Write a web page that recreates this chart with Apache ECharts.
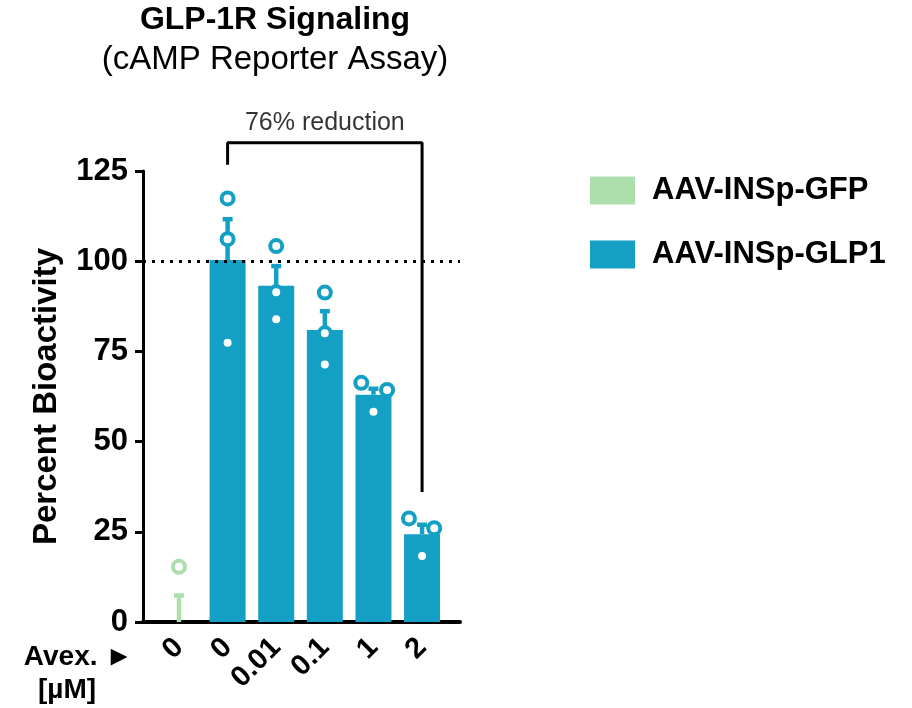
<!DOCTYPE html>
<html>
<head>
<meta charset="utf-8">
<script src="https://cdn.jsdelivr.net/npm/echarts@6/dist/echarts.min.js"></script>
<style>html,body{margin:0;padding:0;background:#fff}#c{width:912px;height:708px}</style>
</head>
<body>
<div id="c"></div>
<script>
// ---- data ----
const doseLabels = ['0', '0', '0.01', '0.1', '1', '2'];
const seriesNames = ['AAV-INSp-GFP', 'AAV-INSp-GLP1'];
const gfpPos = [0];
const gfpMean = [0];
const gfpErrTop = [7.9];
const glpPos = [1, 2, 3, 4, 5];
const glpMean = [100.3, 93.2, 80.9, 63.0, 24.3];
const glpErrTop = [112.2, 99.2, 86.7, 65.2, 27.5];
const pointValues = [[15.3], [117.4, 106.1, 77.4], [104.2, 91.4, 83.9], [91.3, 80.0, 71.4], [66.3, 64.3, 58.3], [28.7, 26.0, 18.3]];
const pointJitter = [[0], [0, 0, 0], [0, 0, 0], [0, 0, 0], [-0.25, 0.28, 0], [-0.27, 0.25, 0]];
const yTicks = [0, 25, 50, 75, 100, 125];
const refLine = 100;
const bracketX = [1, 1, 5, 5];
const bracketY = [126.7, 132.8, 132.8, 36];
const annotText = '76% reduction';

const GREEN = '#ADDFAD';
const TEAL = '#14A0C4';
const FONT = 'Arial, "Liberation Sans", Helvetica, sans-serif';

const chart = echarts.init(document.getElementById('c'), null, {renderer: 'canvas'});

function pts(posList) {
  const out = [];
  posList.forEach(p => {
    pointValues[p].forEach((v, i) => out.push([p + pointJitter[p][i], v]));
  });
  return out;
}

const errData = [];
gfpPos.forEach((p, i) => errData.push([p, gfpMean[i], gfpErrTop[i], 0]));
glpPos.forEach((p, i) => errData.push([p, glpMean[i], glpErrTop[i], 1]));

const option = {
  animation: false,
  backgroundColor: '#fff',
  textStyle: {fontFamily: FONT},
  grid: {left: 143, right: 452, top: 171, bottom: 86, containLabel: false},
  legend: {
    orient: 'vertical', left: 590, top: 175, padding: 0,
    itemWidth: 45, itemHeight: 28, itemGap: 33,
    icon: 'rect',
    data: seriesNames,
    textStyle: {fontSize: 31, fontWeight: 'bold', color: '#000', fontFamily: FONT, padding: [0, 0, 0, 12]}
  },
  xAxis: {
    type: 'value', min: -0.74, max: 5.78,
    splitLine: {show: false},
    axisLine: {show: true, onZero: false, lineStyle: {color: '#000', width: 4}},
    axisTick: {show: false},
    axisLabel: {
      customValues: [0, 1, 2, 3, 4, 5],
      formatter: v => doseLabels[Math.round(v)],
      rotate: 45, margin: 21,
      fontSize: 29, fontWeight: 'bold', color: '#000', fontFamily: FONT
    }
  },
  yAxis: {
    type: 'value', min: 0, max: 125, interval: 25,
    name: 'Percent Bioactivity', nameLocation: 'middle', nameGap: 80,
    nameTextStyle: {fontSize: 33, fontWeight: 'bold', color: '#000', fontFamily: FONT},
    splitLine: {show: false},
    axisLine: {show: true, onZero: false, lineStyle: {color: '#000', width: 3}},
    axisTick: {show: true, length: 8, lineStyle: {color: '#000', width: 3}},
    axisLabel: {fontSize: 31, fontWeight: 'bold', color: '#000', margin: 15, fontFamily: FONT}
  },
  graphic: [
    {type: 'text', x: 275, y: 20, style: {text: 'GLP-1R Signaling', font: 'bold 32px ' + FONT, fill: '#000', textAlign: 'center', textVerticalAlign: 'middle'}},
    {type: 'text', x: 275, y: 60, style: {text: '(cAMP Reporter Assay)', font: '33px ' + FONT, fill: '#000', textAlign: 'center', textVerticalAlign: 'middle'}},
    {type: 'text', x: 133, y: 657, style: {text: 'Avex. \u25BA', font: 'bold 28px ' + FONT, fill: '#000', textAlign: 'right', textVerticalAlign: 'middle'}},
    {type: 'text', x: 67, y: 690, style: {text: '[\u00B5M]', font: 'bold 28px ' + FONT, fill: '#000', textAlign: 'center', textVerticalAlign: 'middle'}}
  ],
  series: [
    {
      name: seriesNames[0], type: 'bar', barWidth: 36, barGap: '-100%',
      itemStyle: {color: GREEN},
      data: gfpPos.map((p, i) => [p, gfpMean[i]]), z: 2
    },
    {
      name: seriesNames[1], type: 'bar', barWidth: 36, barGap: '-100%',
      itemStyle: {color: TEAL},
      data: glpPos.map((p, i) => [p, glpMean[i]]), z: 2,
      markLine: {
        silent: true, symbol: 'none', label: {show: false},
        lineStyle: {color: '#000', width: 3, type: [3, 6]},
        data: [{yAxis: refLine}]
      }
    },
    {
      type: 'custom', z: 3, silent: true,
      data: errData,
      renderItem: function (params, api) {
        const x = api.value(0);
        const base = api.coord([x, api.value(1)]);
        const top = api.coord([x, api.value(2)]);
        const c = api.value(3) === 0 ? GREEN : TEAL;
        return {
          type: 'group',
          children: [
            {type: 'line', shape: {x1: base[0], y1: base[1], x2: top[0], y2: top[1] + 2}, style: {stroke: c, lineWidth: 4.5}},
            {type: 'line', shape: {x1: top[0] - 5, y1: top[1] + 2, x2: top[0] + 5, y2: top[1] + 2}, style: {stroke: c, lineWidth: 4.5}}
          ]
        };
      }
    },
    {
      type: 'scatter', z: 4, silent: true,
      symbol: 'circle', symbolSize: 12,
      itemStyle: {color: '#fff', borderColor: GREEN, borderWidth: 4, opacity: 1},
      data: pts([0])
    },
    {
      type: 'scatter', z: 4, silent: true,
      symbol: 'circle', symbolSize: 12,
      itemStyle: {color: '#fff', borderColor: TEAL, borderWidth: 4, opacity: 1},
      data: pts([1, 2, 3, 4, 5])
    },
    {
      type: 'line', z: 5, silent: true, clip: false, symbol: 'none',
      lineStyle: {color: '#000', width: 3},
      data: bracketX.map((x, i) => [x, bracketY[i]])
    },
    {
      type: 'scatter', z: 5, silent: true, clip: false,
      symbolSize: 0,
      label: {show: true, position: 'top', distance: 7, formatter: annotText, fontSize: 25, color: '#000', fontFamily: FONT},
      data: [[(bracketX[1] + bracketX[2]) / 2, bracketY[1]]]
    }
  ]
};
chart.setOption(option);
</script>
</body>
</html>
